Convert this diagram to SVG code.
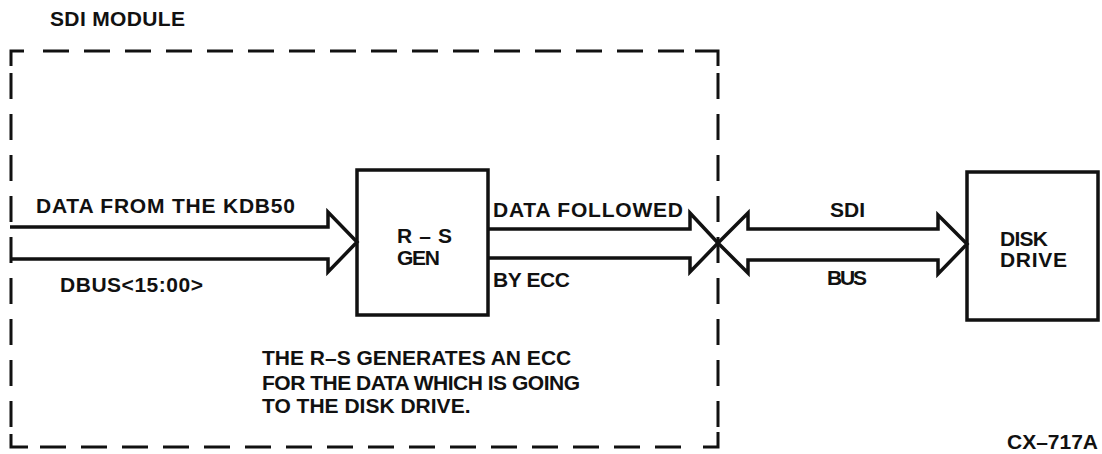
<svg xmlns="http://www.w3.org/2000/svg" width="1102" height="454" viewBox="0 0 1102 454">
<style>
  .t { font-family: "Liberation Sans", Arial, sans-serif; font-weight: bold; font-size: 21px; fill: #111; }
  .box { fill: none; stroke: #111; stroke-width: 3.5; }
  .arr { fill: none; stroke: #111; stroke-width: 3.5; stroke-linejoin: miter; }
  .dash { fill: none; stroke: #111; stroke-width: 3; stroke-dasharray: 26 15; }
  .corner { fill: none; stroke: #111; stroke-width: 3; }
</style>
<rect width="1102" height="454" fill="#fff"/>

<g id="sdi-module">
  <text class="t" x="50" y="26" font-size="17" textLength="135">SDI MODULE</text>
  <path class="corner" d="M11,66 V51 H24"/>
  <path class="corner" d="M695,51 H718 V66"/>
  <path class="corner" d="M11,434 V447 H28"/>
  <path class="corner" d="M703,447 H718 V432"/>
  <line class="dash" x1="43" y1="51" x2="690" y2="51"/>
  <line class="dash" x1="40" y1="447" x2="695" y2="447"/>
  <line class="dash" x1="11" y1="73" x2="11" y2="428"/>
  <line class="dash" x1="718" y1="73" x2="718" y2="428"/>
  <text class="t" x="262" y="365" font-size="19">THE R–S GENERATES AN ECC</text>
  <text class="t" x="262" y="390" font-size="19" textLength="318">FOR THE DATA WHICH IS GOING</text>
  <text class="t" x="262" y="413" font-size="19">TO THE DISK DRIVE.</text>
</g>

<g id="rs-gen">
  <rect class="box" x="357" y="170" width="131" height="145"/>
  <text class="t" x="397" y="243" textLength="55">R – S</text>
  <text class="t" x="397" y="265" textLength="43">GEN</text>
</g>

<g id="disk-drive">
  <rect class="box" x="967" y="172" width="131" height="148"/>
  <text class="t" x="1000" y="246" textLength="48">DISK</text>
  <text class="t" x="1000" y="267" textLength="67">DRIVE</text>
</g>

<g id="connectors">
  <path class="arr" d="M10,227 H328 V212 L357,242 L328,272 V259 H10"/>
  <path class="arr" d="M488,229 H690 V213 L718,243 L690,272 V258 H488"/>
  <path class="arr" d="M718,243 L748,213 V229 H938 V215 L967,244 L938,274 V260 H748 V273 Z"/>
  <text class="t" x="36" y="213" textLength="259">DATA FROM THE KDB50</text>
  <text class="t" x="60" y="292" textLength="143">DBUS&lt;15:00&gt;</text>
  <text class="t" x="493" y="217" textLength="190">DATA FOLLOWED</text>
  <text class="t" x="493" y="287" textLength="77">BY ECC</text>
  <text class="t" x="830" y="217" textLength="35">SDI</text>
  <text class="t" x="827" y="285" textLength="40">BUS</text>
</g>

<text class="t" x="1007" y="449" font-size="20" textLength="91">CX–717A</text>
</svg>
